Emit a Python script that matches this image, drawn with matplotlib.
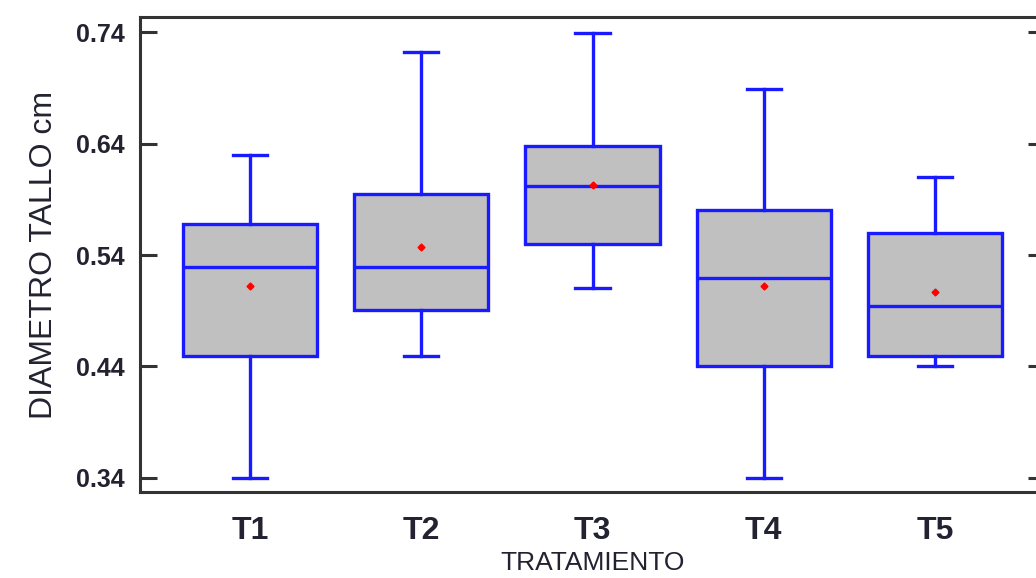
import matplotlib
matplotlib.use("Agg")
import matplotlib.pyplot as plt

categories = ["T1", "T2", "T3", "T4", "T5"]
whisker_low = [0.340, 0.449, 0.510, 0.340, 0.440]
q1 = [0.449, 0.491, 0.550, 0.440, 0.449]
medians = [0.529, 0.529, 0.602, 0.519, 0.494]
q3 = [0.568, 0.595, 0.638, 0.580, 0.560]
whisker_high = [0.630, 0.722, 0.739, 0.689, 0.610]
means = [0.512, 0.547, 0.603, 0.512, 0.507]
yticks = [0.34, 0.44, 0.54, 0.64, 0.74]

stats = []
for i, c in enumerate(categories):
    stats.append(dict(label=c, whislo=whisker_low[i], q1=q1[i], med=medians[i],
                      q3=q3[i], whishi=whisker_high[i], mean=means[i], fliers=[]))

plt.rcParams['font.family'] = ['Liberation Sans', 'DejaVu Sans']
fig = plt.figure(figsize=(10.36, 5.78), dpi=100)
ax = fig.add_axes([140/1036, 1 - 492/578, (1045 - 140)/1036, (492 - 17)/578])

blue = '#1a1aFF'
lw = 2.4
positions = list(range(1, len(categories) + 1))
ax.bxp(stats, positions=positions, widths=0.784, capwidths=0.2, showmeans=True,
       showfliers=False, patch_artist=True,
       boxprops=dict(facecolor='#C0C0C0', edgecolor=blue, linewidth=lw),
       medianprops=dict(color=blue, linewidth=lw),
       whiskerprops=dict(color=blue, linewidth=lw),
       capprops=dict(color=blue, linewidth=lw),
       meanprops=dict(marker='D', markerfacecolor='red', markeredgecolor='red',
                      markersize=3.5))

ax.set_xlim(0.357, 5.643)
ax.set_ylim(0.3274, 0.7535)
ax.set_yticks(yticks)
ax.set_yticklabels([f"{v:.2f}" for v in yticks])
ax.set_xticks(positions)
ax.set_xticklabels(categories)

for s in ax.spines.values():
    s.set_linewidth(2.2)
    s.set_color('#333333')

ax.tick_params(axis='y', direction='in', length=12, width=2.2, color='#333333',
               left=True, right=True, labelsize=18, pad=11, labelcolor='#222230')
ax.tick_params(axis='x', length=0, labelsize=23, pad=17, labelcolor='#222230')
for t in ax.get_yticklabels() + ax.get_xticklabels():
    t.set_fontweight('bold')

ax.set_ylabel("DIAMETRO TALLO cm", fontsize=23, color='#222230', labelpad=12)
ax.set_xlabel("TRATAMIENTO", fontsize=19, color='#222230', labelpad=4)

fig.savefig("out.png", dpi=100)
